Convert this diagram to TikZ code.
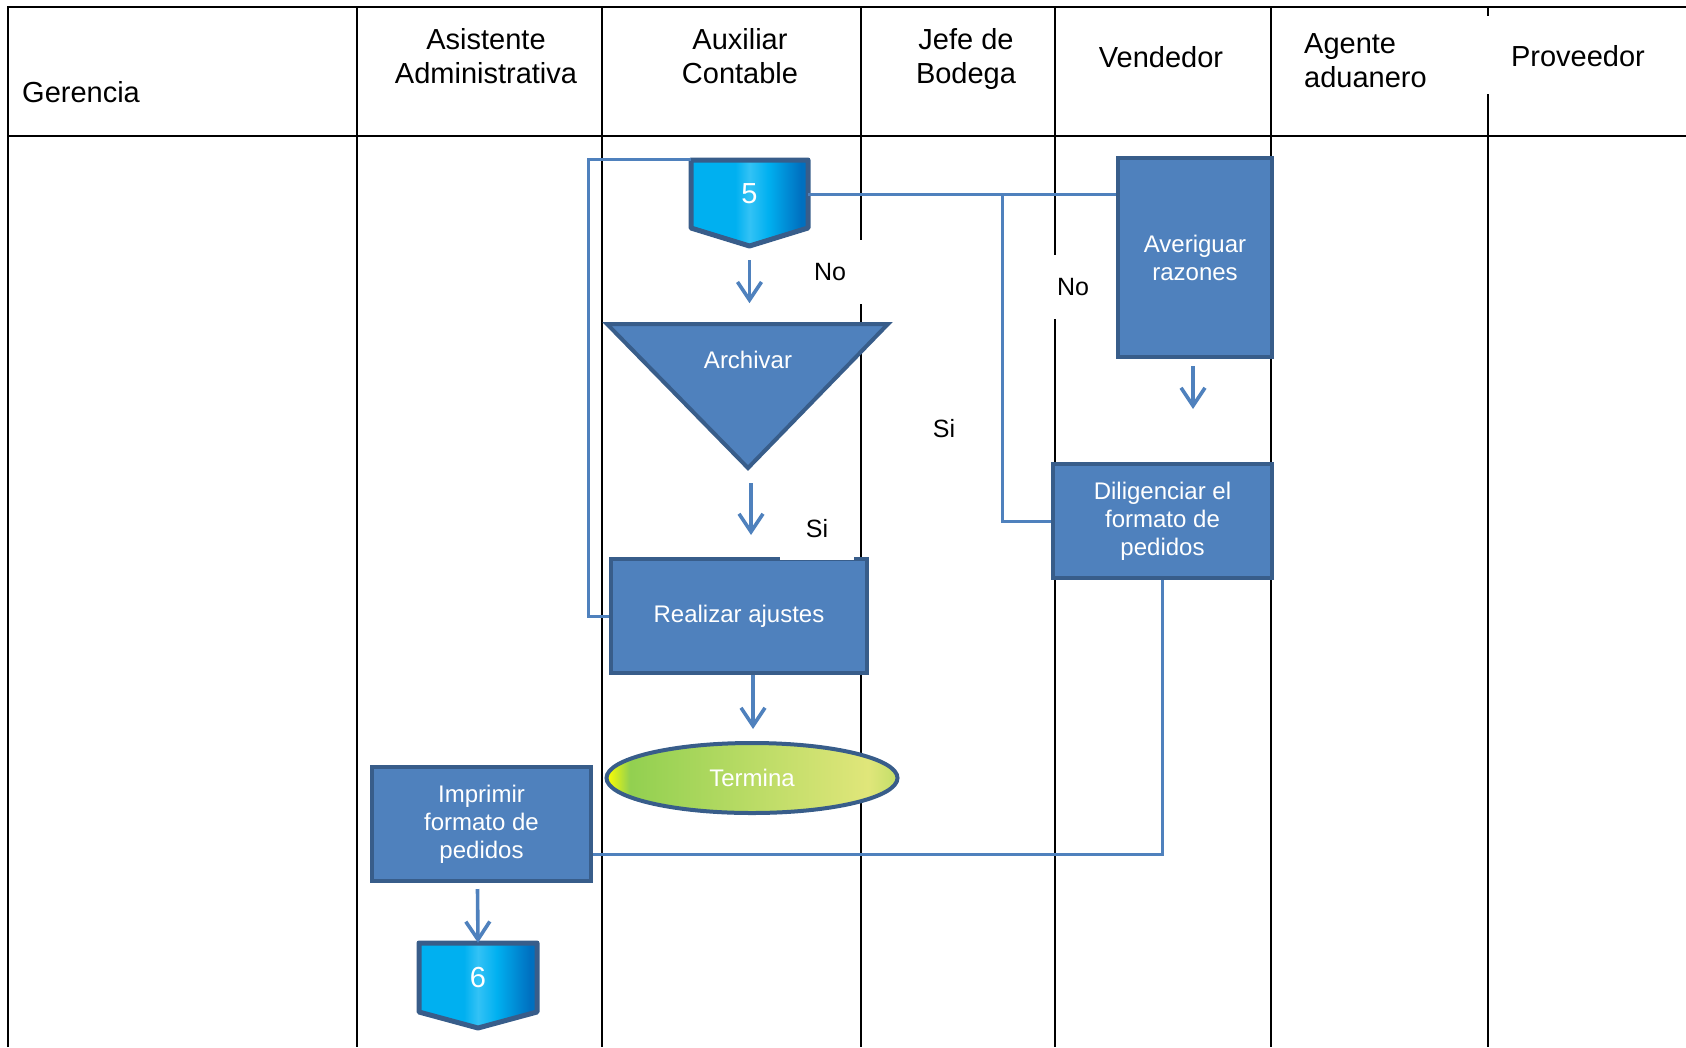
\documentclass[tikz,border=0pt]{standalone}
\usepackage{fontspec}
\setmainfont{Liberation Sans}
\usepackage{tikz}
\usetikzlibrary{arrows.meta,shapes.geometric}
\definecolor{taskBlue}{HTML}{4F81BD}
\definecolor{taskEdge}{HTML}{385D8A}
\definecolor{flowBlue}{HTML}{4F81BD}
\definecolor{pgCyan}{HTML}{00B0F0}
\definecolor{pgHigh}{HTML}{33C2F5}
\definecolor{pgBlue}{HTML}{0070C0}
\definecolor{endYellow}{HTML}{FFFF00}
\definecolor{endGreen}{HTML}{92D050}
\definecolor{endLight}{HTML}{E0E67A}
\definecolor{endRim}{HTML}{C2DE68}
\pgfdeclarehorizontalshading{pgshade}{100bp}{color(0bp)=(pgCyan); color(25bp)=(pgCyan); color(44bp)=(pgCyan); color(50bp)=(pgHigh); color(58bp)=(pgCyan); color(72bp)=(pgBlue); color(100bp)=(pgBlue)}
\pgfdeclarehorizontalshading{endshade}{100bp}{color(0bp)=(endYellow); color(25bp)=(endYellow); color(29bp)=(endGreen); color(70bp)=(endLight); color(75bp)=(endRim); color(100bp)=(endRim)}

\begin{document}
\begin{tikzpicture}[x=1pt, y=-1pt,
    lane/.style={line width=2pt, black},
    head/.style={font=\fontsize{29}{34}\selectfont, align=center, inner sep=0pt},
    tasktxt/.style={text=white, font=\fontsize{24}{28}\selectfont, align=center, inner sep=0pt},
    task/.style={tasktxt, draw=taskEdge, fill=taskBlue, line width=4pt},
    offpg/.style={draw=taskEdge, line width=5pt, line join=round, shading=pgshade},
    numtxt/.style={text=white, font=\fontsize{29}{32}\selectfont, inner sep=0pt},
    flow/.style={draw=flowBlue, line width=3pt},
    arrowln/.style={flow, line width=3.6pt, -{Straight Barb[length=18pt,width=24pt]}},
    lbl/.style={fill=white, font=\fontsize{25}{30}\selectfont, inner sep=0pt}
  ]
  \useasboundingbox (0,0) rectangle (1686,1047);

  \draw[lane] (8,1047) -- (8,7) -- (1686,7);
  \draw[lane] (8,136) -- (1686,136);
  \foreach \x in {357,602,861,1055,1271,1488}
    \draw[lane] (\x,7) -- (\x,1047);

  \node[head, anchor=west] (hGer) at (22,92) {Gerencia};
  \node[head] (hAsi) at (486,56) {Asistente\\Administrativa};
  \node[head] (hAux) at (740,56) {Auxiliar\\Contable};
  \node[head] (hJef) at (966,59) {Jefe de\\Bodega};
  \node[head] (hVen) at (1161,57) {Vendedor};
  \node[fill=white, minimum width=20pt, minimum height=78pt] (hGap) at (1488,55) {};
  \node[head, align=left, anchor=west] (hAge) at (1304,61) {Agente\\aduanero};
  \node[head] (hPro) at (1578,56) {Proveedor};

  \path[offpg] (691,160) -- (808,160) -- (808,228) -- (749.5,246) -- (691,228) -- cycle;
  \node[numtxt, minimum width=117pt, minimum height=68pt] (p5) at (749.5,194) {5};

  \path[task] (607,324) -- (888,324) -- (748,468) -- cycle;
  \node[tasktxt] (arch) at (748,360) {Archivar};
  \coordinate (archTip) at (748,468);

  \node[task, minimum width=256pt, minimum height=114pt] (ajust) at (739,616) {Realizar ajustes};
  \node[tasktxt, ellipse, draw=taskEdge, line width=4pt, shading=endshade, minimum width=291pt, minimum height=70pt] (fin) at (752,778) {Termina};
  \node[task, minimum width=154pt, minimum height=199pt] (aver) at (1195,257.5) {Averiguar\\razones};
  \node[task, minimum width=219pt, minimum height=114pt] (dilig) at (1162.5,521) {Diligenciar el\\formato de\\pedidos};
  \node[task, minimum width=219pt, minimum height=114pt] (impr) at (481.5,824) {Imprimir\\formato de\\pedidos};

  \path[offpg] (419,943) -- (537,943) -- (537,1012) -- (478,1028) -- (419,1012) -- cycle;
  \node[numtxt, minimum width=118pt, minimum height=69pt] (p6) at (478,977.5) {6};

  \draw[flow] (ajust.west) -- ++(-21,0) |- (p5.north west);
  \draw[flow] (p5.east) -- (p5.east -| aver.west);
  \draw[flow] (dilig.west) -- ++(-49,0) coordinate (jn) -- (jn |- p5.east);
  \draw[flow] (dilig.south) |- ([yshift=-30pt]impr.east);

  \draw[arrowln] ([yshift=-32pt]p5.south) -- ++(0,43);
  \draw[arrowln] ([yshift=-15pt,xshift=3pt]archTip) -- ++(0,52);
  \draw[arrowln] ([xshift=14pt]ajust.south) -- ++(0,54);
  \draw[arrowln] ([yshift=-7pt,xshift=-2pt]aver.south) -- ++(0,43);
  \draw[arrowln] ([yshift=-6pt,xshift=-4pt]impr.south) -- (p6.north);

  \node[lbl, minimum width=72pt, minimum height=64pt] (lNo1) at (830,272) {No};
  \node[lbl, minimum width=60pt, minimum height=64pt] (lNo2) at (1073,287) {No};
  \node[lbl, minimum width=74pt, minimum height=62pt] (lSi1) at (817,529) {Si};
  \node[lbl] (lSi2) at (944,429) {Si};
\end{tikzpicture}
\end{document}
